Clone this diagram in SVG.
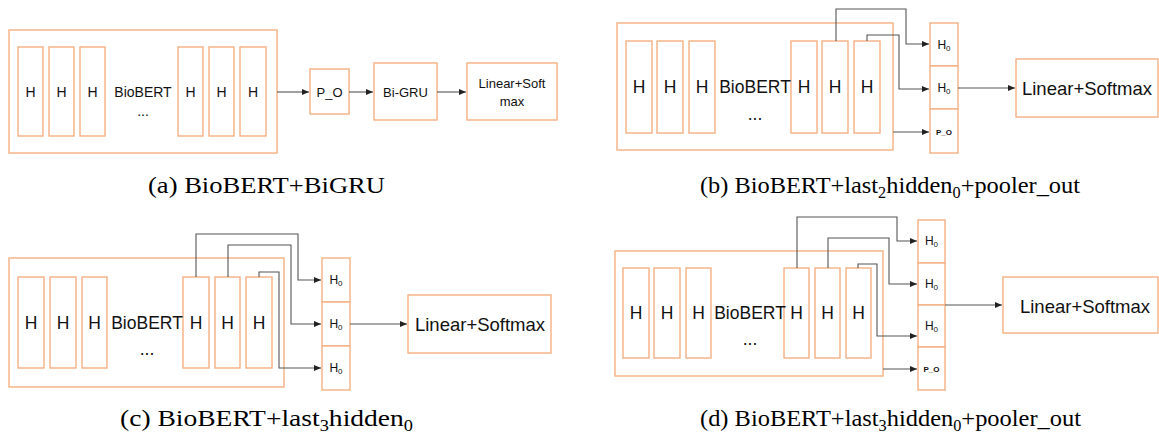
<svg xmlns="http://www.w3.org/2000/svg" width="1159" height="434" viewBox="0 0 1159 434">
  <defs>
    <marker id="arr" markerUnits="userSpaceOnUse" markerWidth="8" markerHeight="7" refX="7" refY="3" orient="auto">
      <path d="M0,0 L7,3 L0,6 z" fill="#222"/>
    </marker>
    <style>
      .box { fill: #fff; stroke: #F4B084; stroke-width: 1.4; }
      .arrow { fill: none; stroke: #555; stroke-width: 1.1; marker-end: url(#arr); }
      .t { font-family: "Liberation Sans", Arial, sans-serif; fill: #111; text-anchor: middle; dominant-baseline: central; }
      .s13 { font-size: 13px; }
      .s14 { font-size: 14px; }
      .s17 { font-size: 17.5px; }
      .s18 { font-size: 18.5px; }
      .h0 { font-size: 12px; }
      .po { font-size: 8px; font-weight: bold; }
      .cap { font-family: "Liberation Serif", "Times New Roman", serif; font-size: 24px; fill: #000; }
    </style>
  </defs>
  <rect width="1159" height="434" fill="#fff"/>

  <!-- (a) BioBERT + BiGRU -->
  <g id="a-biobert">
    <rect class="box" x="9" y="30" width="268" height="123"/>
    <rect class="box" x="18" y="47" width="25" height="89"/>
    <rect class="box" x="49" y="47" width="25" height="89"/>
    <rect class="box" x="80" y="47" width="25" height="89"/>
    <rect class="box" x="178" y="47" width="25" height="89"/>
    <rect class="box" x="209" y="47" width="25" height="89"/>
    <rect class="box" x="240" y="47" width="26" height="89"/>
    <text class="t s14" x="30.5" y="92">H</text>
    <text class="t s14" x="61.5" y="92">H</text>
    <text class="t s14" x="92.5" y="92">H</text>
    <text class="t s14" x="190.5" y="92">H</text>
    <text class="t s14" x="221.5" y="92">H</text>
    <text class="t s14" x="253" y="92">H</text>
    <text class="t s14" x="143" y="92">BioBERT</text>
    <text class="t s14" x="143" y="111">...</text>
  </g>
  <g id="a-po">
    <rect class="box" x="310" y="69" width="39" height="45"/>
    <text class="t s13" x="329.5" y="92">P_O</text>
  </g>
  <g id="a-bigru">
    <rect class="box" x="374" y="63" width="63" height="57"/>
    <text class="t s13" x="405.5" y="92">Bi-GRU</text>
  </g>
  <g id="a-linear">
    <rect class="box" x="467" y="63" width="90" height="57"/>
    <text class="t s13" x="512" y="83">Linear+Soft</text>
    <text class="t s13" x="512" y="101">max</text>
  </g>

  <!-- (b) BioBERT + last2 hidden0 + pooler_out -->
  <g id="b-biobert">
    <rect class="box" x="617" y="23" width="276" height="127"/>
    <rect class="box" x="626" y="41" width="26" height="92"/>
    <rect class="box" x="657" y="41" width="26" height="92"/>
    <rect class="box" x="689" y="41" width="26" height="92"/>
    <rect class="box" x="791" y="41" width="26" height="92"/>
    <rect class="box" x="822" y="41" width="26" height="92"/>
    <rect class="box" x="854" y="41" width="26" height="92"/>
    <text class="t s17" x="639" y="87">H</text>
    <text class="t s17" x="670" y="87">H</text>
    <text class="t s17" x="702" y="87">H</text>
    <text class="t s17" x="804" y="87">H</text>
    <text class="t s17" x="835" y="87">H</text>
    <text class="t s17" x="867" y="87">H</text>
    <text class="t s17" x="755" y="87">BioBERT</text>
    <text class="t s17" x="755" y="114">...</text>
  </g>
  <g id="b-stack">
    <rect class="box" x="930" y="23" width="28" height="43"/>
    <rect class="box" x="930" y="66" width="28" height="43"/>
    <rect class="box" x="930" y="109" width="28" height="44"/>
    <text class="t h0" x="944" y="44.5">H<tspan font-size="8" dy="3">0</tspan></text>
    <text class="t h0" x="944" y="88">H<tspan font-size="8" dy="3">0</tspan></text>
    <text class="t po" x="944" y="132">P_O</text>
  </g>
  <g id="b-linear">
    <rect class="box" x="1016" y="59" width="142" height="58"/>
    <text class="t s18" x="1087" y="88">Linear+Softmax</text>
  </g>

  <!-- (c) BioBERT + last3 hidden0 -->
  <g id="c-biobert">
    <rect class="box" x="9" y="258" width="275" height="129"/>
    <rect class="box" x="18" y="277" width="26" height="91"/>
    <rect class="box" x="50" y="277" width="26" height="91"/>
    <rect class="box" x="82" y="277" width="25" height="91"/>
    <rect class="box" x="183" y="277" width="26" height="91"/>
    <rect class="box" x="215" y="277" width="25" height="91"/>
    <rect class="box" x="246" y="277" width="26" height="91"/>
    <text class="t s17" x="31" y="323">H</text>
    <text class="t s17" x="63" y="323">H</text>
    <text class="t s17" x="94.5" y="323">H</text>
    <text class="t s17" x="196" y="323">H</text>
    <text class="t s17" x="227.5" y="323">H</text>
    <text class="t s17" x="259" y="323">H</text>
    <text class="t s17" x="147" y="323">BioBERT</text>
    <text class="t s17" x="147" y="349">...</text>
  </g>
  <g id="c-stack">
    <rect class="box" x="322" y="258" width="28" height="44"/>
    <rect class="box" x="322" y="302" width="28" height="44"/>
    <rect class="box" x="322" y="346" width="28" height="44"/>
    <text class="t h0" x="336" y="280">H<tspan font-size="8" dy="3">0</tspan></text>
    <text class="t h0" x="336" y="324">H<tspan font-size="8" dy="3">0</tspan></text>
    <text class="t h0" x="336" y="368">H<tspan font-size="8" dy="3">0</tspan></text>
  </g>
  <g id="c-linear">
    <rect class="box" x="408" y="295" width="143" height="58"/>
    <text class="t s18" x="480" y="324">Linear+Softmax</text>
  </g>

  <!-- (d) BioBERT + last3 hidden0 + pooler_out -->
  <g id="d-biobert">
    <rect class="box" x="615" y="251" width="268" height="125"/>
    <rect class="box" x="623" y="268" width="26" height="90"/>
    <rect class="box" x="654" y="268" width="26" height="90"/>
    <rect class="box" x="686" y="268" width="25" height="90"/>
    <rect class="box" x="784" y="268" width="25" height="90"/>
    <rect class="box" x="815" y="268" width="25" height="90"/>
    <rect class="box" x="846" y="268" width="25" height="90"/>
    <text class="t s17" x="636" y="313">H</text>
    <text class="t s17" x="667" y="313">H</text>
    <text class="t s17" x="698.5" y="313">H</text>
    <text class="t s17" x="796.5" y="313">H</text>
    <text class="t s17" x="827.5" y="313">H</text>
    <text class="t s17" x="858.5" y="313">H</text>
    <text class="t s17" x="750" y="313">BioBERT</text>
    <text class="t s17" x="750" y="339">...</text>
  </g>
  <g id="d-stack">
    <rect class="box" x="918" y="220" width="27" height="43"/>
    <rect class="box" x="918" y="263" width="27" height="42"/>
    <rect class="box" x="918" y="305" width="27" height="42"/>
    <rect class="box" x="918" y="347" width="27" height="43"/>
    <text class="t h0" x="931.5" y="241">H<tspan font-size="8" dy="3">0</tspan></text>
    <text class="t h0" x="931.5" y="284">H<tspan font-size="8" dy="3">0</tspan></text>
    <text class="t h0" x="931.5" y="326">H<tspan font-size="8" dy="3">0</tspan></text>
    <text class="t po" x="931.5" y="369">P_O</text>
  </g>
  <g id="d-linear">
    <rect class="box" x="1003" y="277" width="155" height="56"/>
    <text class="t s18" x="1085" y="306">Linear+Softmax</text>
  </g>

  <!-- connectors -->
  <g id="connectors">
    <path class="arrow" d="M277,92 H309"/>
    <path class="arrow" d="M349,92 H373"/>
    <path class="arrow" d="M437,92 H466"/>

    <path class="arrow" d="M836,41 V9 H906 V44 H929"/>
    <path class="arrow" d="M867,41 V35 H899 V89 H929"/>
    <path class="arrow" d="M893,132 H929"/>
    <path class="arrow" d="M958,88 H1015"/>

    <path class="arrow" d="M196,277 V234 H298 V280 H321"/>
    <path class="arrow" d="M228,277 V245 H291 V324 H321"/>
    <path class="arrow" d="M259,277 V272 H279 V368 H321"/>
    <path class="arrow" d="M350,324 H407"/>

    <path class="arrow" d="M797,268 V217 H897 V241 H917"/>
    <path class="arrow" d="M828,268 V238 H889 V284 H917"/>
    <path class="arrow" d="M858,268 V264 H877 V336 H917"/>
    <path class="arrow" d="M883,369 H917"/>
    <path class="arrow" d="M945,305 H1002"/>
  </g>

  <!-- captions -->
  <g id="captions">
    <text class="cap" x="148" y="193" textLength="237" lengthAdjust="spacingAndGlyphs">(a) BioBERT+BiGRU</text>
    <text class="cap" x="700" y="193" textLength="380" lengthAdjust="spacingAndGlyphs">(b) BioBERT+last<tspan font-size="16" dy="5">2</tspan><tspan dy="-5">hidden</tspan><tspan font-size="16" dy="5">0</tspan><tspan dy="-5">+pooler_out</tspan></text>
    <text class="cap" x="120" y="426" textLength="293" lengthAdjust="spacingAndGlyphs">(c) BioBERT+last<tspan font-size="16" dy="5">3</tspan><tspan dy="-5">hidden</tspan><tspan font-size="16" dy="5">0</tspan></text>
    <text class="cap" x="700" y="426" textLength="381" lengthAdjust="spacingAndGlyphs">(d) BioBERT+last<tspan font-size="16" dy="5">3</tspan><tspan dy="-5">hidden</tspan><tspan font-size="16" dy="5">0</tspan><tspan dy="-5">+pooler_out</tspan></text>
  </g>
</svg>
